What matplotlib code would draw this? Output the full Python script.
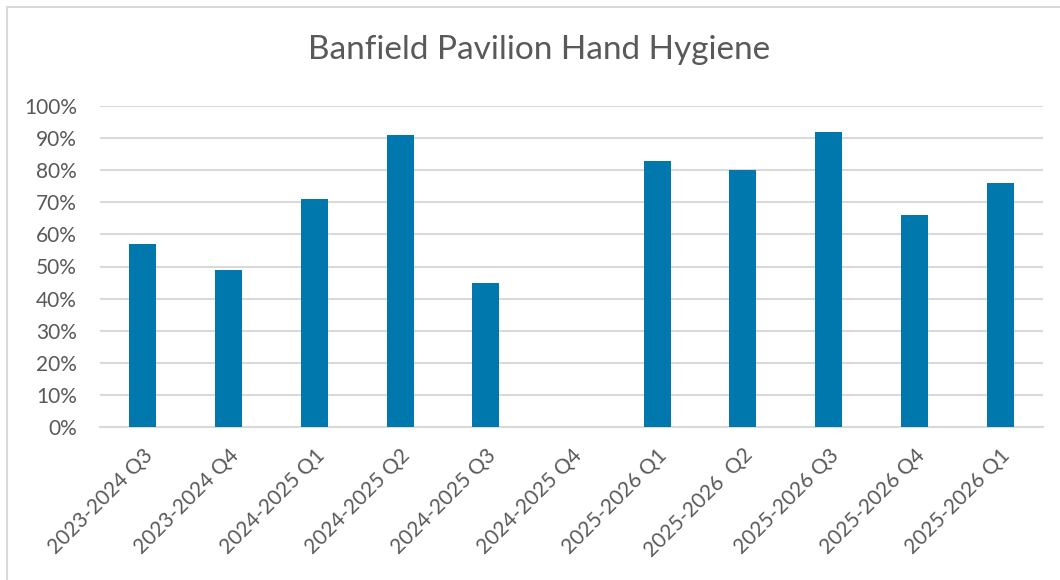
import matplotlib
matplotlib.use("Agg")
import matplotlib.pyplot as plt
import numpy as np
from matplotlib.patches import Rectangle
from matplotlib.ticker import PercentFormatter

plt.rcParams['font.family'] = ['Lato', 'DejaVu Sans']

quarters = ["2023-2024 Q3", "2023-2024 Q4", "2024-2025 Q1", "2024-2025 Q2",
            "2024-2025 Q3", "2024-2025 Q4", "2025-2026 Q1", "2025-2026  Q2",
            "2025-2026 Q3", "2025-2026 Q4", "2025-2026 Q1"]
hygiene = [57, 49, 71, 91, 45, np.nan, 83, 80, 92, 66, 76]

bar_color = "#0078AE"
text_color = "#595959"
grid_color = "#D9D9D9"

fig = plt.figure(figsize=(10.6, 5.8), dpi=100)
ax = fig.add_axes([100 / 1060, 1 - 427 / 580, 943 / 1060, 321 / 580])

x = np.arange(len(quarters))
ax.bar(x, hygiene, width=0.315, color=bar_color, zorder=3)

ax.set_xlim(-0.5, len(quarters) - 0.5)
ax.set_ylim(0, 100)
ax.set_yticks(np.arange(0, 101, 10))
ax.yaxis.set_major_formatter(PercentFormatter(decimals=0))
ax.set_xticks(x)
ax.set_xticklabels(quarters, rotation=45, ha="right", rotation_mode="anchor")
ax.tick_params(axis="both", length=0, labelsize=15, colors=text_color)
ax.tick_params(axis="x", pad=13)
ax.tick_params(axis="y", pad=16.5)
ax.grid(axis="y", color=grid_color, linewidth=1.5, zorder=0)
for side in ["top", "right", "left"]:
    ax.spines[side].set_visible(False)
ax.spines["bottom"].set_color(grid_color)
ax.spines["bottom"].set_linewidth(1.5)

fig.text(539 / 1060, 1 - 50 / 580, "Banfield Pavilion Hand Hygiene",
         ha="center", va="center", fontsize=24, color=text_color)

# chart-area border, as in the spreadsheet export
fig.patches.append(Rectangle((7 / 1060, -0.1), 1.2, 1 - 7 / 580 + 0.1,
                             transform=fig.transFigure, fill=False,
                             edgecolor=grid_color, linewidth=1.5))

fig.savefig("out.png", dpi=100)
plt.close(fig)
